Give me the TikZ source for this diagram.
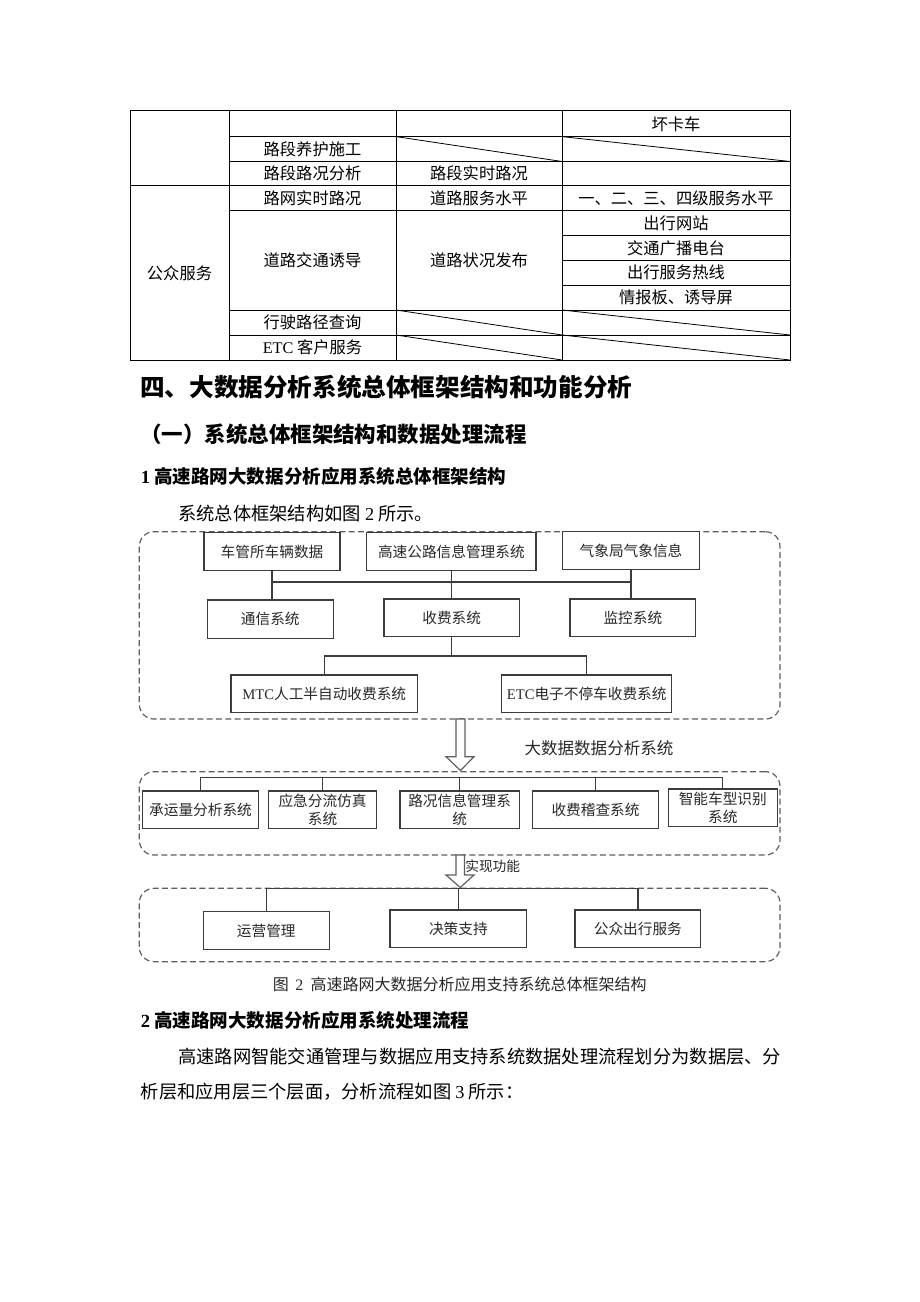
\documentclass[tikz,border=0pt]{standalone}
\usepackage{fontspec}
\setmainfont{Noto Sans CJK SC}
\newfontfamily\lat{Liberation Serif}
\definecolor{boxc}{RGB}{60,60,60}
\definecolor{grpc}{RGB}{95,95,95}
\definecolor{txtc}{RGB}{40,40,40}
\begin{document}
\begin{tikzpicture}[x=0.75pt,y=-0.75pt,
  box/.style={draw=boxc,line width=1pt,fill=white,inner sep=0pt,align=center,font=\fontsize{11}{13.7}\selectfont,text=txtc},
  grp/.style={draw=grpc,line width=0.9pt,dash pattern=on 4.5pt off 2.5pt,rounded corners=11pt,inner sep=0pt},
  wire/.style={draw=boxc,line width=1pt},
  hollow/.style={draw=grpc,line width=0.9pt,fill=white},
  tline/.style={line width=0.75pt},
  dline/.style={line width=0.6pt},
  cell/.style={font=\fontsize{12.2}{14}\selectfont,inner sep=0pt},
  para/.style={anchor=west,inner sep=0pt,font=\fontsize{13.7}{16}\selectfont},
  lbl/.style={inner sep=0pt,text=txtc},
]
\useasboundingbox[fill=white] (0,0) rectangle (920,1302);

% ---------------- table ----------------
\draw[tline] (130,111) rectangle (790,360);
\draw[tline] (229,111) -- (229,360);
\draw[tline] (396,111) -- (396,360);
\draw[tline] (562,111) -- (562,360);
\draw[tline] (229,136.6) -- (790,136.6);
\draw[tline] (229,161.5) -- (790,161.5);
\draw[tline] (130,185.8) -- (790,185.8);
\draw[tline] (229,210.7) -- (790,210.7);
\draw[tline] (562,235.6) -- (790,235.6);
\draw[tline] (562,260.2) -- (790,260.2);
\draw[tline] (562,285.1) -- (790,285.1);
\draw[tline] (229,310) -- (790,310);
\draw[tline] (229,335) -- (790,335);
% diagonals
\draw[dline] (396,136.6) -- (562,161.5);
\draw[dline] (562,136.6) -- (790,161.5);
\draw[dline] (396,310) -- (562,335);
\draw[dline] (562,310) -- (790,335);
\draw[dline] (396,335) -- (562,360);
\draw[dline] (562,335) -- (790,360);
% cell texts
\node[cell] (k1) at (676,123.8) {坏卡车};
\node[cell] (k2) at (312.5,149) {路段养护施工};
\node[cell] (k3) at (312.5,173.6) {路段路况分析};
\node[cell] (k4) at (479,173.6) {路段实时路况};
\node[cell] (k5) at (312.5,198.2) {路网实时路况};
\node[cell] (k6) at (479,198.2) {道路服务水平};
\node[cell] (k7) at (676,198.2) {一、二、三、四级服务水平};
\node[cell] (k8) at (179.5,272.9) {公众服务};
\node[cell] (k9) at (312.5,260.4) {道路交通诱导};
\node[cell] (k10) at (479,260.4) {道路状况发布};
\node[cell] (k11) at (676,223.1) {出行网站};
\node[cell] (k12) at (676,247.9) {交通广播电台};
\node[cell] (k13) at (676,272.6) {出行服务热线};
\node[cell] (k14) at (676,297.5) {情报板、诱导屏};
\node[cell] (k15) at (312.5,322.5) {行驶路径查询};
\node[cell] (k16) at (312.5,347.5) {{\lat ETC} 客户服务};

% ---------------- headings & text ----------------
\node[anchor=west,inner sep=0pt,font=\fontsize{18.45}{20}\selectfont\bfseries] (h1) at (140,386.7) {四、大数据分析系统总体框架结构和功能分析};
\node[anchor=west,inner sep=0pt,font=\fontsize{16.1}{18}\selectfont\bfseries] (h2) at (140,434) {（一）系统总体框架结构和数据处理流程};
\node[anchor=west,inner sep=0pt,font=\fontsize{13.9}{16}\selectfont\bfseries] (h3) at (140.5,476.7) {{\lat 1} 高速路网大数据分析应用系统总体框架结构};
\node[para] (p1) at (178,514) {系统总体框架结构如图 {\lat 2} 所示。};

% ---------------- diagram groups ----------------
\node[grp,minimum width=480.5pt,minimum height=140.5pt] (g1) at (459.65,625.35) {};
\node[grp,minimum width=480.5pt,minimum height=62.5pt] (g2) at (459.65,813.35) {};
\node[grp,minimum width=480.5pt,minimum height=55pt] (g3) at (459.65,925) {};

% layer 1
\node[box,minimum width=102pt,minimum height=28.5pt] (c1) at (272,551.7) {车管所车辆数据};
\node[box,minimum width=127pt,minimum height=28.5pt] (c2) at (451.35,551.7) {高速公路信息管理系统};
\node[box,minimum width=102.5pt,minimum height=28.2pt] (c3) at (631,550.5) {气象局气象信息};
\node[box,minimum width=94.5pt,minimum height=28.7pt] (t1) at (270.3,619.2) {通信系统};
\node[box,minimum width=101.5pt,minimum height=28.3pt] (t2) at (451.7,617.9) {收费系统};
\node[box,minimum width=94.3pt,minimum height=28.3pt] (t3) at (632.9,617.9) {监控系统};
\node[box,minimum width=139.7pt,minimum height=28.3pt] (m1) at (324.2,693.9) {{\lat MTC}人工半自动收费系统};
\node[box,minimum width=127.5pt,minimum height=28.3pt] (m2) at (586.7,693.9) {{\lat ETC}电子不停车收费系统};
\coordinate (b1) at (0,582);
\coordinate (b2) at (0,656);
\draw[wire] (c1.south) -- (c1.south |- t1.north);
\draw[wire] (c2.south) -- (c2.south |- t2.north);
\draw[wire] (c3.south) -- (c3.south |- t3.north);
\draw[wire] (c1.south |- b1) -- (c3.south |- b1);
\draw[wire] (t2.south) -- (t2.south |- b2);
\draw[wire] (m1.north) -- (m1.north |- b2) -- (m2.north |- b2) -- (m2.north);

% arrow 1 and label
\draw[hollow] (456,719) -- (465,719) -- (465,756.7) -- (474,756.7) -- (460.5,770.5) -- (446,756.7) -- (456,756.7) -- cycle;
\node[lbl,font=\fontsize{12.4}{14}\selectfont] (l1) at (599,748.3) {大数据数据分析系统};

% layer 2
\node[box,minimum width=86.7pt,minimum height=28pt] (d1) at (200.5,809.65) {承运量分析系统};
\node[box,minimum width=81.3pt,minimum height=28pt] (d2) at (322.5,809.65) {应急分流仿真\\系统};
\node[box,minimum width=89.5pt,minimum height=28pt] (d3) at (459.65,809.65) {路况信息管理系\\统};
\node[box,minimum width=94.2pt,minimum height=28pt] (d4) at (595.5,809.65) {收费稽查系统};
\node[box,minimum width=81.75pt,minimum height=28pt] (d5) at (722.8,807.65) {智能车型识别\\系统};
\coordinate (b3) at (0,777.3);
\draw[wire] (d1.north) -- (d1.north |- b3) -- (d5.north |- b3) -- (d5.north);
\draw[wire] (d2.north) -- (d2.north |- b3);
\draw[wire] (d3.north) -- (d3.north |- b3);
\draw[wire] (d4.north) -- (d4.north |- b3);

% arrow 2 and label
\draw[hollow] (456,855) -- (464.5,855) -- (464.5,875) -- (474,875) -- (460.2,887.5) -- (446,875) -- (456,875) -- cycle;
\node[lbl,anchor=west,font=\fontsize{10.3}{12}\selectfont] (l2) at (465,866.7) {实现功能};

% layer 3
\node[box,minimum width=94.5pt,minimum height=28.2pt] (e1) at (266.3,930.5) {运营管理};
\node[box,minimum width=102.5pt,minimum height=28pt] (e2) at (458.35,928.65) {决策支持};
\node[box,minimum width=94.3pt,minimum height=28pt] (e3) at (637.85,928.65) {公众出行服务};
\coordinate (b4) at (0,888.3);
\draw[wire] (e1.north) -- (e1.north |- b4) -- (e3.north |- b4) -- (e3.north);
\draw[wire] (e2.north) -- (e2.north |- b4);

% caption
\node[lbl,anchor=west,font=\fontsize{12}{14}\selectfont] (cap) at (272.7,984.3) {图\hspace{0.4em}{\lat 2}\hspace{0.45em}高速路网大数据分析应用支持系统总体框架结构};

% ---------------- section 2 ----------------
\node[anchor=west,inner sep=0pt,font=\fontsize{13.9}{16}\selectfont\bfseries] (h4) at (140.5,1020) {{\lat 2} 高速路网大数据分析应用系统处理流程};
\node[para] (p2) at (178,1056.7) {高速路网智能交通管理与数据应用支持系统数据处理流程划分为数据层、分};
\node[para] (p3) at (140.5,1091.7) {析层和应用层三个层面，分析流程如图 {\lat 3} 所示：};
\end{tikzpicture}
\end{document}
